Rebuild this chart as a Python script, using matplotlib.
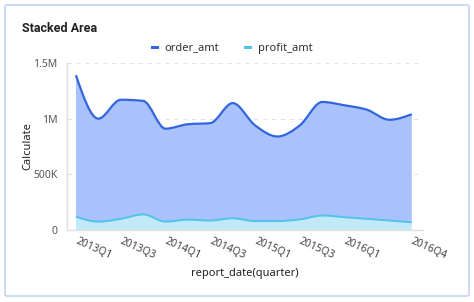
import numpy as np
import matplotlib.pyplot as plt
from matplotlib.path import Path
from matplotlib.patches import PathPatch, FancyBboxPatch
from matplotlib.lines import Line2D

plt.rcParams['font.family'] = ['Noto Sans', 'DejaVu Sans']

# Data
quarters = ['2013Q1', '2013Q2', '2013Q3', '2013Q4', '2014Q1', '2014Q2', '2014Q3', '2014Q4',
            '2015Q1', '2015Q2', '2015Q3', '2015Q4', '2016Q1', '2016Q2', '2016Q3', '2016Q4']
profit_amt = [120000, 75000, 100000, 140000, 75000, 93000, 85000, 105000,
              80000, 80000, 95000, 130000, 115000, 100000, 85000, 70000]
order_amt = [1270000, 925000, 1070000, 1020000, 835000, 857000, 875000, 1035000,
             860000, 760000, 845000, 1020000, 1005000, 980000, 905000, 970000]
shown_labels = ['2013Q1', '2013Q3', '2014Q1', '2014Q3', '2015Q1', '2015Q3', '2016Q1', '2016Q4']
y_ticks = [0, 500000, 1000000, 1500000]
y_tick_labels = ['0', '500K', '1M', '1.5M']

ORDER_LINE = '#3366dd'
ORDER_FILL = '#aac2fb'
PROFIT_LINE = '#4fc3ea'
PROFIT_FILL = '#c2e9f7'


def monotone_tangents(x, y):
    # tangents like d3.curveMonotoneX
    x = np.asarray(x, float)
    y = np.asarray(y, float)
    h = np.diff(x)
    s = np.diff(y) / h
    n = len(x)
    t = np.zeros(n)
    for i in range(1, n - 1):
        if s[i - 1] * s[i] <= 0:
            t[i] = 0
        else:
            p = (s[i - 1] * h[i] + s[i] * h[i - 1]) / (h[i - 1] + h[i])
            t[i] = np.sign(s[i - 1]) * min(abs(s[i - 1]), abs(s[i]), 0.5 * abs(p)) * 2
    t[0] = (3 * s[0] - t[1]) / 2 if n > 2 else s[0]
    t[-1] = (3 * s[-1] - t[-2]) / 2 if n > 2 else s[-1]
    return t


def smooth_path_verts(x, y):
    t = monotone_tangents(x, y)
    verts = [(x[0], y[0])]
    codes = [Path.MOVETO]
    for i in range(len(x) - 1):
        dx = (x[i + 1] - x[i]) / 3
        verts += [(x[i] + dx, y[i] + dx * t[i]),
                  (x[i + 1] - dx, y[i + 1] - dx * t[i + 1]),
                  (x[i + 1], y[i + 1])]
        codes += [Path.CURVE4] * 3
    return verts, codes


def reverse_curve(verts, codes):
    # reverse a MOVETO + CURVE4 path so it can close a fill region
    rv = verts[::-1]
    return rv[1:], codes[1:]


xs = np.arange(len(quarters))
profit = np.array(profit_amt, float)
total = profit + np.array(order_amt, float)

fig = plt.figure(figsize=(4.74, 3.02), dpi=100)
fig.patch.set_facecolor('white')
card = FancyBboxPatch((5 / 474, 6 / 302), 464 / 474, 291 / 302,
                      boxstyle='round,pad=0,rounding_size=0.004',
                      transform=fig.transFigure, facecolor='none',
                      edgecolor='#c6d4f3', linewidth=1.2, zorder=-10)
fig.patches.append(card)

ax = fig.add_axes([67 / 474, 72 / 302, 356 / 474, 167 / 302])
ax.set_facecolor('none')

# bottom layer: profit_amt
pv, pc = smooth_path_verts(xs, profit)
fill_v = [(xs[0], 0)] + pv + [(xs[-1], 0), (xs[0], 0)]
fill_c = [Path.MOVETO, Path.LINETO] + pc[1:] + [Path.LINETO, Path.CLOSEPOLY]
ax.add_patch(PathPatch(Path(fill_v, fill_c), facecolor=PROFIT_FILL, edgecolor='none', zorder=2))

# top layer: order_amt stacked on profit
tv, tc = smooth_path_verts(xs, total)
rv, rc = reverse_curve(pv, pc)
fill_v = tv + [pv[-1]] + rv + [tv[0]]
fill_c = tc + [Path.LINETO] + rc + [Path.CLOSEPOLY]
ax.add_patch(PathPatch(Path(fill_v, fill_c), facecolor=ORDER_FILL, edgecolor='none', zorder=2))

ax.add_patch(PathPatch(Path(pv, pc), facecolor='none', edgecolor=PROFIT_LINE, linewidth=1.4, zorder=3))
ax.add_patch(PathPatch(Path(tv, tc), facecolor='none', edgecolor=ORDER_LINE, linewidth=1.6, zorder=3))

ax.set_xlim(-0.4, 15.5)
ax.set_ylim(0, 1500000)

ax.set_yticks(y_ticks)
ax.set_yticklabels(y_tick_labels)
for y in y_ticks[1:]:
    ax.axhline(y, color='#e3e3e3', linewidth=0.8, linestyle=(0, (4, 4)), zorder=1)

ax.set_xticks([quarters.index(q) for q in shown_labels])
ax.set_xticklabels(shown_labels, rotation=-24, ha='left', va='center', rotation_mode='anchor',
                   fontsize=7.5, color='#444444')
ax.tick_params(axis='x', length=0, pad=8)
ax.tick_params(axis='y', length=0, pad=7, labelsize=7.5, labelcolor='#555555')

for side in ['top', 'right']:
    ax.spines[side].set_visible(False)
ax.spines['left'].set_color('#e0e0e0')
ax.spines['bottom'].set_color('#e0e0e0')
ax.spines['left'].set_linewidth(1)
ax.spines['bottom'].set_linewidth(1)

ax.set_ylabel('Calculate', fontsize=8, color='#222222')
ax.yaxis.set_label_coords(-0.095, 0.5)
ax.set_xlabel('report_date(quarter)', fontsize=8, color='#222222')
ax.xaxis.set_label_coords(0.5, -38 / 167)

fig.text(22 / 474, 1 - 28 / 302, 'Stacked Area', fontsize=9, fontweight='bold',
         family='Roboto', color='#222222', va='center', ha='left')

handles = [Line2D([], [], color=ORDER_LINE, linewidth=2.2),
           Line2D([], [], color=PROFIT_LINE, linewidth=2.2)]
fig.legend(handles, ['order_amt', 'profit_amt'], loc='center', bbox_to_anchor=(232 / 474, 1 - 48 / 302),
           ncol=2, frameon=False, fontsize=8, handlelength=0.45, handletextpad=0.7,
           columnspacing=2.3, labelcolor='#333333')

fig.savefig('out.png', dpi=100)
